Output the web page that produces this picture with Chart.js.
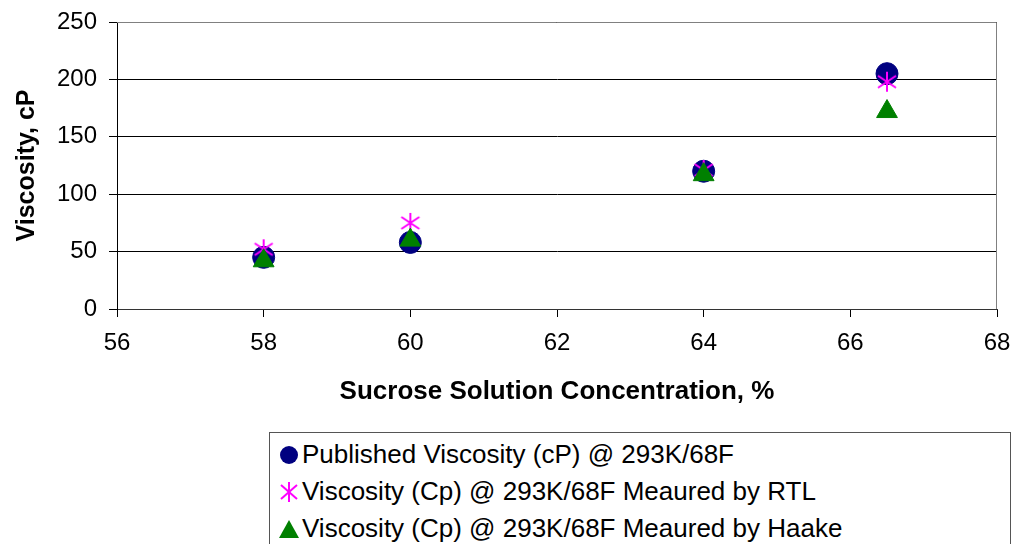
<!DOCTYPE html>
<html lang="en">
<head>
  <meta charset="UTF-8" />
  <title>Sucrose Viscosity</title>
  <script src="https://cdn.jsdelivr.net/npm/chart.js"></script>
  <style>
    body {
      margin: 0;
      background: #fff;
      font-family: 'Liberation Sans', Arial, sans-serif;
    }
    .wrap {
      position: relative;
      width: 1022px;
      height: 544px;
      overflow: hidden;
    }
    .plot {
      position: absolute;
      left: 0;
      top: 0;
      width: 1022px;
      height: 420px;
    }
    .legend {
      position: absolute;
      left: 269px;
      top: 432px;
      width: 742px;
      height: 130px;
      border: 1px solid #555;
      box-sizing: border-box;
      padding: 5px 0 0 8px;
      font-size: 26px;
      color: #000;
    }
    .legend div {
      height: 37px;
      line-height: 32px;
      white-space: nowrap;
    }
    .legend svg {
      vertical-align: -3px;
      margin-right: 2px;
    }
  </style>
</head>
<body>
  <div class="wrap">
    <div class="plot"><canvas id="chart"></canvas></div>
    <div class="legend">
      <div><svg width="22" height="22"><circle cx="11" cy="11" r="9" fill="#000080"/></svg>Published Viscosity (cP) @ 293K/68F</div>
      <div><svg width="22" height="22"><g stroke="#ff00ff" stroke-width="2"><line x1="11" y1="1" x2="11" y2="21"/><line x1="3" y1="4" x2="19" y2="18"/><line x1="19" y1="4" x2="3" y2="18"/></g></svg>Viscosity (Cp) @ 293K/68F Meaured by RTL</div>
      <div><svg width="22" height="22"><polygon points="11,2 21,20 1,20" fill="#008000"/></svg>Viscosity (Cp) @ 293K/68F Meaured by Haake</div>
    </div>
  </div>

  <script>
    const concentration = [58, 60, 64, 66.5];
    const published = [45, 58, 120, 205];
    const rtl = [52, 75, 121, 198];
    const haake = [42, 60, 117, 172];
    const xTicks = [56, 58, 60, 62, 64, 66, 68];
    const yTicks = [0, 50, 100, 150, 200, 250];

    function toPoints(ys) {
      return concentration.map((x, i) => ({ x: x, y: ys[i] }));
    }

    // asterisk marker like the spreadsheet one
    const star = document.createElement('canvas');
    star.width = 24;
    star.height = 24;
    const sc = star.getContext('2d');
    sc.strokeStyle = '#ff00ff';
    sc.lineWidth = 2;
    sc.beginPath();
    sc.moveTo(12, 2); sc.lineTo(12, 22);
    sc.moveTo(3, 6); sc.lineTo(21, 18);
    sc.moveTo(21, 6); sc.lineTo(3, 18);
    sc.stroke();

    const frame = {
      id: 'frame',
      afterDraw(chart) {
        const a = chart.chartArea;
        const c = chart.ctx;
        c.save();
        c.strokeStyle = '#808080';
        c.lineWidth = 1;
        c.beginPath();
        c.moveTo(a.left, a.top + 0.5);
        c.lineTo(a.right - 0.5, a.top + 0.5);
        c.lineTo(a.right - 0.5, a.bottom);
        c.stroke();
        c.restore();
      }
    };

    Chart.defaults.font.family = "'Liberation Sans', Arial, sans-serif";
    Chart.defaults.color = '#000';

    new Chart(document.getElementById('chart'), {
      type: 'scatter',
      data: {
        datasets: [
          {
            label: 'Published Viscosity (cP) @ 293K/68F',
            data: toPoints(published),
            pointStyle: 'circle',
            pointRadius: 11,
            backgroundColor: '#000080',
            borderColor: '#000080',
            order: 3
          },
          {
            label: 'Viscosity (Cp) @ 293K/68F Meaured by RTL',
            data: toPoints(rtl),
            pointStyle: star,
            pointRadius: 12,
            order: 2
          },
          {
            label: 'Viscosity (Cp) @ 293K/68F Meaured by Haake',
            data: toPoints(haake),
            pointStyle: 'triangle',
            pointRadius: 12,
            backgroundColor: '#008000',
            borderColor: '#008000',
            order: 1
          }
        ]
      },
      options: {
        responsive: true,
        maintainAspectRatio: false,
        animation: false,
        layout: { padding: { top: 22, right: 25, left: 0, bottom: 0 } },
        plugins: {
          legend: { display: false },
          tooltip: { enabled: false }
        },
        scales: {
          x: {
            type: 'linear',
            min: 56,
            max: 68,
            afterBuildTicks(s) { s.ticks = xTicks.map(v => ({ value: v })); },
            afterFit(s) { s.height = 111; s.paddingLeft = 0; s.paddingRight = 0; },
            grid: {
              drawOnChartArea: false,
              color: '#000',
              tickLength: 8
            },
            border: { color: '#333' },
            ticks: { font: { size: 24 }, padding: 12 },
            title: {
              display: true,
              text: 'Sucrose Solution Concentration, %',
              font: { size: 26, weight: 'bold' },
              padding: { top: 15, bottom: 13 }
            }
          },
          y: {
            min: 0,
            max: 250,
            afterBuildTicks(s) { s.ticks = yTicks.map(v => ({ value: v })); },
            afterFit(s) { s.width = 117; s.paddingTop = 0; s.paddingBottom = 0; },
            grid: {
              color: '#000',
              tickLength: 8
            },
            border: { color: '#000' },
            ticks: { font: { size: 24 }, padding: 12 },
            title: {
              display: true,
              text: 'Viscosity, cP',
              font: { size: 25, weight: 'bold' },
              padding: { top: 12, bottom: 0 }
            }
          }
        }
      },
      plugins: [frame]
    });
  </script>
</body>
</html>
